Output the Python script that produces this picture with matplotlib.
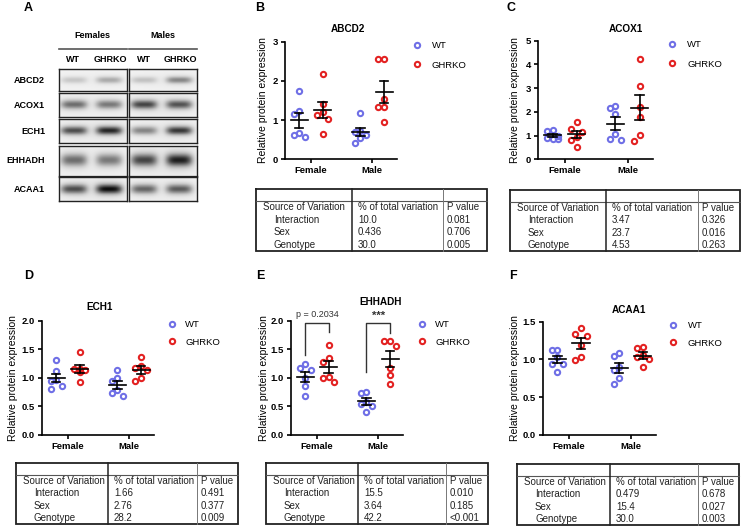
import numpy as np
import matplotlib
matplotlib.use('Agg')
import matplotlib.pyplot as plt
from matplotlib.lines import Line2D

plt.rcParams['font.family'] = ['Liberation Sans', 'DejaVu Sans']

W, H = 746, 530
fig = plt.figure(figsize=(W / 100, H / 100), dpi=100)


def frect(x0, y0, x1, y1):
    return [x0 / W, 1 - y1 / H, (x1 - x0) / W, (y1 - y0) / H]


def fx(x):
    return x / W


def fy(y):
    return 1 - y / H


# ---------------------------------------------------------------- data
sexes = ['Female', 'Male']
genotypes = ['WT', 'GHRKO']
wt_color = '#6f6fe6'
ko_color = '#e32222'

# ABCD2
abcd2_wt_female = [1.74, 1.22, 1.15, 0.68, 0.57, 0.62]
abcd2_ko_female = [2.17, 1.41, 1.13, 1.20, 1.04, 0.65]
abcd2_wt_male = [1.17, 0.72, 0.70, 0.63, 0.55, 0.41]
abcd2_ko_male = [2.55, 2.55, 1.54, 1.34, 1.34, 0.96]
# ACOX1
acox1_wt_female = [1.25, 1.18, 1.00, 0.85, 0.85, 0.90]
acox1_ko_female = [1.57, 1.29, 1.17, 0.95, 0.81, 0.51]
acox1_wt_male = [2.25, 2.15, 1.90, 1.05, 0.82, 0.86]
acox1_ko_male = [4.23, 3.09, 2.19, 1.77, 1.03, 0.77]
# ECH1
ech1_wt_female = [1.31, 1.12, 0.96, 0.94, 0.80, 0.86]
ech1_ko_female = [1.45, 1.16, 1.16, 1.13, 1.10, 0.92]
ech1_wt_male = [1.14, 0.99, 0.95, 0.68, 0.79, 0.74]
ech1_ko_male = [1.37, 1.20, 1.18, 1.14, 0.95, 0.99]
# EHHADH
ehhadh_wt_female = [1.25, 1.18, 1.14, 0.99, 0.85, 0.69]
ehhadh_ko_female = [1.57, 1.34, 1.27, 1.02, 1.00, 0.92]
ehhadh_wt_male = [0.74, 0.76, 0.57, 0.55, 0.50, 0.41]
ehhadh_ko_male = [1.64, 1.65, 1.56, 1.18, 1.05, 0.89]
# ACAA1
acaa1_wt_female = [1.13, 1.13, 1.03, 0.94, 0.94, 0.84]
acaa1_ko_female = [1.41, 1.34, 1.31, 1.19, 0.99, 1.03]
acaa1_wt_male = [1.08, 1.04, 0.86, 0.76, 0.68, 0.90]
acaa1_ko_male = [1.17, 1.15, 1.06, 1.03, 1.00, 0.90]

# two-way ANOVA tables
anova_sources = ['Interaction', 'Sex', 'Genotype']
anova_header = ['Source of Variation', '% of total variation', 'P value']
abcd2_pct = ['10.0', '0.436', '30.0']
abcd2_p = ['0.081', '0.706', '0.005']
acox1_pct = ['3.47', '23.7', '4.53']
acox1_p = ['0.326', '0.016', '0.263']
ech1_pct = ['1.66', '2.76', '28.2']
ech1_p = ['0.491', '0.377', '0.009']
ehhadh_pct = ['15.5', '3.64', '42.2']
ehhadh_p = ['0.010', '0.185', '<0.001']
acaa1_pct = ['0.479', '15.4', '30.0']
acaa1_p = ['0.678', '0.027', '0.003']

# EHHADH comparisons
ehhadh_comp_labels = ['p = 0.2034', '***']

# Western blot band darkness [Female WT, Female GHRKO, Male WT, Male GHRKO]
blot_proteins = ['ABCD2', 'ACOX1', 'ECH1', 'EHHADH', 'ACAA1']
blot_abcd2 = [0.18, 0.30, 0.20, 0.45]
blot_acox1 = [0.55, 0.50, 0.72, 0.66]
blot_ech1 = [0.68, 0.85, 0.45, 0.78]
blot_ehhadh = [0.55, 0.50, 0.72, 0.88]
blot_acaa1 = [0.68, 0.95, 0.58, 0.62]

# ---------------------------------------------------------------- panel A (blots)
fig.text(fx(28), fy(8), 'A', fontsize=9, fontweight='bold', ha='center', va='center')
fig.text(fx(92), fy(36), 'Females', fontsize=6.5, fontweight='bold', ha='center', va='center')
fig.text(fx(163), fy(36), 'Males', fontsize=6.5, fontweight='bold', ha='center', va='center')
fig.add_artist(Line2D([fx(59), fx(127)], [fy(49), fy(49)], color='#555555', lw=1.2))
fig.add_artist(Line2D([fx(129), fx(197)], [fy(49), fy(49)], color='#555555', lw=1.2))
for xc, lab in zip([73, 110, 144, 180], ['WT', 'GHRKO', 'WT', 'GHRKO']):
    fig.text(fx(xc), fy(60), lab, fontsize=6.5, fontweight='bold', ha='center', va='center')

blot_rows = [(69.3, 91.0, 0.15), (93.0, 117.3, 0.17), (119.0, 143.3, 0.16),
             (145.7, 175.5, 0.2), (177.3, 201.3, 0.19)]
blot_vals = [blot_abcd2, blot_acox1, blot_ech1, blot_ehhadh, blot_acaa1]
boxes_x = [(59.3, 127.0), (129.0, 196.7)]
for name, (y0, y1, sig), vals in zip(blot_proteins, blot_rows, blot_vals):
    fig.text(fx(45), fy((y0 + y1) / 2), name, fontsize=6.5, fontweight='bold',
             ha='right', va='center')
    for b, (x0, x1) in enumerate(boxes_x):
        ax = fig.add_axes(frect(x0, y0, x1, y1))
        nx, ny = 120, 40
        xx, yy = np.meshgrid(np.linspace(0, 1, nx), np.linspace(0, 1, ny))
        img = np.full((ny, nx), 0.95)
        for lane, cx in enumerate([0.22, 0.74]):
            d = vals[2 * b + lane]
            prof = np.exp(-((xx - cx) / 0.19) ** 4) * np.exp(-((yy - 0.5) / sig) ** 2)
            halo = np.exp(-((xx - cx) / 0.3) ** 2) * np.exp(-((yy - 0.5) / (sig * 2.5)) ** 2)
            img = img - d * 0.85 * prof - d * 0.1 * halo
        ax.imshow(np.clip(img, 0, 1), cmap='gray', vmin=0, vmax=1, aspect='auto',
                  interpolation='bilinear')
        ax.set_xticks([])
        ax.set_yticks([])
        for s in ax.spines.values():
            s.set_linewidth(1.0)
            s.set_color('#222222')

# ---------------------------------------------------------------- scatter panels
positions = [0.0, 1.0, 2.6, 3.6]
xlim = (-0.6, 4.15)
marker_d_px = 7.0
step_px = 5.6


def swarm(vals, ppu_y, ppu_x):
    """Spread points horizontally (max one step each side) to limit overlap."""
    vals = np.asarray(vals, float)
    order = np.argsort(vals)[::-1]
    placed = []
    offs = np.zeros(len(vals))
    cands = [0, -step_px, step_px]
    for i in order:
        y = vals[i] * ppu_y
        best, best_d = 0, -1
        for c in cands:
            dmin = min([np.hypot(c - px, y - py) for px, py in placed] + [1e9])
            if dmin >= marker_d_px:
                best = c
                break
            if dmin > best_d:
                best, best_d = c, dmin
        offs[i] = best
        placed.append((best, y))
    return offs / ppu_x


panels = [
    dict(letter='B', letter_pos=(260, 8), title='ABCD2', title_pos=(348, 29),
         box=(285, 41.7, 397, 159.3), ymax=3, yticks=[0, 1, 2, 3], fmt='{:.0f}',
         ylab_x=263, leg=(417, 45, 66, 432),
         data=[abcd2_wt_female, abcd2_ko_female, abcd2_wt_male, abcd2_ko_male],
         table=(256, 189, 487, 251, 352, 443), pct=abcd2_pct, p=abcd2_p),
    dict(letter='C', letter_pos=(511, 8), title='ACOX1', title_pos=(626, 29),
         box=(538, 40.7, 653, 159.3), ymax=5, yticks=[0, 1, 2, 3, 4, 5], fmt='{:.0f}',
         ylab_x=515, leg=(672, 44, 65, 687),
         data=[acox1_wt_female, acox1_ko_female, acox1_wt_male, acox1_ko_male],
         table=(510, 190, 740, 251, 606, 698), pct=acox1_pct, p=acox1_p),
    dict(letter='D', letter_pos=(29, 276), title='ECH1', title_pos=(100, 307),
         box=(42, 320.7, 154, 435), ymax=2, yticks=[0, 0.5, 1, 1.5, 2], fmt='{:.1f}',
         ylab_x=13, leg=(172, 324, 343, 185),
         data=[ech1_wt_female, ech1_ko_female, ech1_wt_male, ech1_ko_male],
         table=(16, 463, 238, 524, 108, 197), pct=ech1_pct, p=ech1_p),
    dict(letter='E', letter_pos=(260, 276), title='EHHADH', title_pos=(381, 302),
         box=(291, 320.7, 403, 435), ymax=2, yticks=[0, 0.5, 1, 1.5, 2], fmt='{:.1f}',
         ylab_x=264, leg=(422, 324, 343, 435),
         data=[ehhadh_wt_female, ehhadh_ko_female, ehhadh_wt_male, ehhadh_ko_male],
         table=(266, 463, 488, 524, 358, 446), pct=ehhadh_pct, p=ehhadh_p),
    dict(letter='F', letter_pos=(513, 276), title='ACAA1', title_pos=(629, 310),
         box=(543, 321.7, 656, 435), ymax=1.5, yticks=[0, 0.5, 1, 1.5], fmt='{:.1f}',
         ylab_x=515, leg=(673, 325, 344, 688),
         data=[acaa1_wt_female, acaa1_ko_female, acaa1_wt_male, acaa1_ko_male],
         table=(517, 464, 739, 525, 610, 698), pct=acaa1_pct, p=acaa1_p),
]

for pn in panels:
    x0, y0, x1, y1 = pn['box']
    ax = fig.add_axes(frect(x0, y0, x1, y1))
    ax.set_xlim(*xlim)
    ax.set_ylim(0, pn['ymax'])
    ppu_y = (y1 - y0) / pn['ymax']
    ppu_x = (x1 - x0) / (xlim[1] - xlim[0])
    colors = [wt_color, ko_color, wt_color, ko_color]
    for pos, vals, col in zip(positions, pn['data'], colors):
        vals = np.asarray(vals, float)
        offs = swarm(vals, ppu_y, ppu_x)
        ax.plot(pos + offs, vals, linestyle='none', marker='o', ms=3.8, mew=1.5,
                mfc='none', mec=col, clip_on=False, zorder=3)
        m = vals.mean()
        se = vals.std(ddof=1) / np.sqrt(len(vals))
        ax.plot([pos - 0.36, pos + 0.36], [m, m], color='black', lw=1.2, zorder=4)
        ax.plot([pos, pos], [m - se, m + se], color='black', lw=1.2, zorder=4)
        ax.plot([pos - 0.18, pos + 0.18], [m + se, m + se], color='black', lw=1.2, zorder=4)
        ax.plot([pos - 0.18, pos + 0.18], [m - se, m - se], color='black', lw=1.2, zorder=4)
    for s in ['top', 'right']:
        ax.spines[s].set_visible(False)
    for s in ['left', 'bottom']:
        ax.spines[s].set_linewidth(1.2)
    ax.set_yticks(pn['yticks'])
    ax.set_yticklabels([pn['fmt'].format(v) for v in pn['yticks']],
                       fontsize=6.8, fontweight='bold')
    ax.set_xticks([(positions[0] + positions[1]) / 2, (positions[2] + positions[3]) / 2])
    ax.set_xticklabels(sexes, fontsize=6.8, fontweight='bold')
    ax.tick_params(axis='both', length=3, width=1.2, pad=2)
    fig.text(fx(pn['ylab_x']), fy((y0 + y1) / 2), 'Relative protein expression',
             rotation=90, fontsize=7.5, ha='center', va='center')
    fig.text(fx(pn['title_pos'][0]), fy(pn['title_pos'][1]), pn['title'],
             fontsize=7.2, fontweight='bold', ha='center', va='center')
    fig.text(fx(pn['letter_pos'][0]), fy(pn['letter_pos'][1]), pn['letter'],
             fontsize=9, fontweight='bold', ha='center', va='center')
    # legend
    lx, ly1, ly2, tx = pn['leg']
    handles = [Line2D([], [], linestyle='none', marker='o', ms=3.8, mew=1.5,
                      mfc='none', mec=wt_color),
               Line2D([], [], linestyle='none', marker='o', ms=3.8, mew=1.5,
                      mfc='none', mec=ko_color)]
    fs = 6.8
    fs_px = fs * 100 / 72
    hl = 0.8
    htp = (tx - lx) / fs_px - hl / 2
    ax.legend(handles, genotypes, loc='center left', frameon=False, fontsize=fs,
              bbox_to_anchor=(fx(lx - hl / 2 * fs_px), fy((ly1 + ly2) / 2)),
              bbox_transform=fig.transFigure, borderpad=0, borderaxespad=0,
              handlelength=hl, handletextpad=htp,
              labelspacing=((ly2 - ly1) / fs_px) - 1.15)
    if pn['title'] == 'EHHADH':
        bx = [positions[0], positions[0], positions[1], positions[1]]
        ax.plot(bx, [1.40, 1.96, 1.96, 1.81], color='#333333', lw=1.0, clip_on=False)
        ax.text((positions[0] + positions[1]) / 2, 2.03, ehhadh_comp_labels[0],
                fontsize=6.5, ha='center', va='bottom', color='#333333')
        bx = [positions[2], positions[2], positions[3], positions[3]]
        ax.plot(bx, [1.11, 1.96, 1.96, 1.78], color='#333333', lw=1.0, clip_on=False)
        ax.text((positions[2] + positions[3]) / 2, 2.0, ehhadh_comp_labels[1],
                fontsize=8, fontweight='bold', ha='center', va='bottom', color='#333333')

    # ANOVA table
    tx0, ty0, tx1, ty1, s1, s2 = pn['table']
    tw, th = tx1 - tx0, ty1 - ty0
    tax = fig.add_axes(frect(tx0, ty0, tx1, ty1))
    tax.set_xlim(0, tw)
    tax.set_ylim(th, 0)
    tax.axis('off')
    hdr = 12
    rh = (th - hdr) / 4
    tax.plot([0, tw, tw, 0, 0], [0, 0, th, th, 0], color='#222222', lw=1.3,
             clip_on=False, solid_joinstyle='miter')
    tax.plot([0, tw], [hdr, hdr], color='#555555', lw=0.8, clip_on=False)
    tax.plot([s1 - tx0, s1 - tx0], [0, th], color='#222222', lw=1.1, clip_on=False)
    tax.plot([s2 - tx0, s2 - tx0], [0, th], color='#777777', lw=0.7, clip_on=False)
    tfs = 7
    tcol = '#222222'
    rows = [anova_header] + [[src, a, b] for src, a, b in zip(anova_sources, pn['pct'], pn['p'])]
    for r, row in enumerate(rows):
        yc = hdr + rh * (r + 0.5)
        tax.text(7 if r == 0 else 18, yc, row[0], fontsize=tfs, ha='left', va='center', color=tcol)
        tax.text(s1 - tx0 + 6, yc, row[1], fontsize=tfs, ha='left', va='center', color=tcol)
        tax.text(s2 - tx0 + 4, yc, row[2], fontsize=tfs, ha='left', va='center', color=tcol)

fig.savefig('out.png', dpi=100, facecolor='white')
